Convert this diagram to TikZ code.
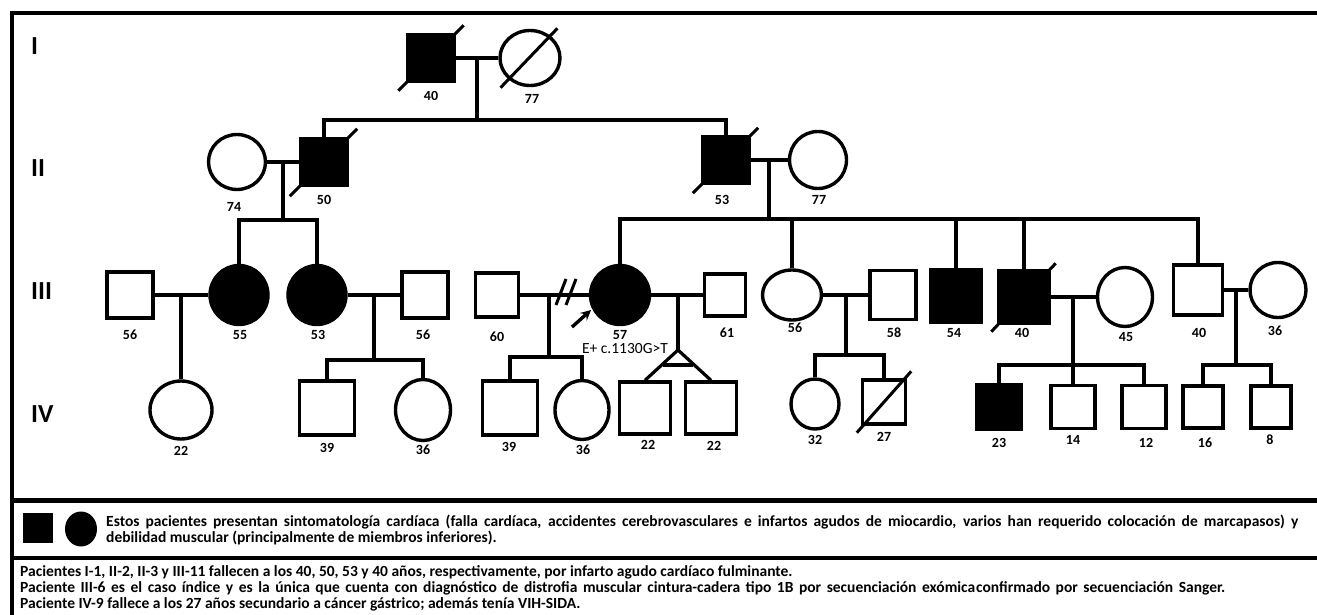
\documentclass[tikz,border=0pt]{standalone}
\usepackage{fontspec}
\setmainfont{Carlito}
\usetikzlibrary{shapes.geometric}

\newcommand{\agefont}{\bfseries\fontsize{14}{14}\selectfont}
\newcommand{\genfont}{\bfseries\fontsize{26}{26}\selectfont}
\newcommand{\txtfont}{\bfseries\fontsize{15.5}{16}\selectfont}

\begin{document}
\begin{tikzpicture}[x=1pt, y=-1pt,
    conn/.style = {line width=3.2pt},
    boxline/.style = {line width=4pt},
    male/.style 2 args = {draw, line width=3.4pt, inner sep=0pt, minimum width=#1, minimum height=#2},
    female/.style 2 args = {ellipse, draw, line width=3.4pt, inner sep=0pt, minimum width=#1, minimum height=#2},
    aff/.style = {fill=black},
    dead/.style = {line width=3pt},
    age/.style = {font=\agefont, inner sep=0pt},
    gen/.style = {font=\genfont, anchor=west, inner sep=0pt},
    arrow/.style = {line width=3.4pt,-stealth}]

    \useasboundingbox (0,0) rectangle (1317,615);
    \clip (0,0) rectangle (1317,615);

    % frame
    \draw[boxline] (1325,13) -- (12,13) -- (12,625);
    \draw[line width=5pt] (10,500) -- (1325,500);
    \draw[boxline] (10,558) -- (1325,558);

    % generations
    \node[gen] (gI)   at (31,46)  {I};
    \node[gen] (gII)  at (31,168) {II};
    \node[gen] (gIII) at (31,291) {III};
    \node[gen] (gIV)  at (31,414) {IV};

    % I
    \node[male={46}{46}, aff] (i1) at (431,58) {};
    \node[female={60}{55}]    (i2) at (530,58) {};

    % II
    \node[female={57}{55}]    (ii1) at (237,162) {};
    \node[male={47}{47}, aff] (ii2) at (324,162) {};
    \node[male={47}{47}, aff] (ii3) at (726,160) {};
    \node[female={57}{57}]    (ii4) at (818,160) {};

    % III
    \node[male={46}{46}]        (iii1)  at (130,295)  {};
    \node[female={58}{59}, aff] (iii2)  at (239,295)  {};
    \node[female={58}{59}, aff] (iii3)  at (317,295)  {};
    \node[male={46}{46}]        (iii4)  at (425,295)  {};
    \node[male={43}{44}]        (iii5)  at (497,295)  {};
    \node[female={59}{59}, aff] (iii6)  at (620,295)  {};
    \node[male={41}{42}]        (iii6b) at (725,295)  {};
    \node[female={59}{50}]      (iii7)  at (792,295)  {};
    \node[male={46}{49}]        (iii8)  at (893,295)  {};
    \node[male={50}{52}, aff]   (iii9)  at (956,296)  {};
    \node[male={50}{52}, aff]   (iii10) at (1024,297) {};
    \node[female={55}{59}]      (iii11) at (1125,297) {};
    \node[male={49}{50}]        (iii12) at (1198,290) {};
    \node[female={56}{55}]      (iii13) at (1278,290) {};

    % IV
    \node[female={62}{58}]    (iv1)  at (181,410)  {};
    \node[male={55}{54}]      (iv2)  at (327,408)  {};
    \node[female={55}{61}]    (iv3)  at (423,410)  {};
    \node[male={55}{54}]      (iv4)  at (510,408)  {};
    \node[female={54}{59}]    (iv5)  at (582,410)  {};
    \node[male={51}{52}]      (iv6)  at (645,408)  {};
    \node[male={51}{52}]      (iv7)  at (711,408)  {};
    \node[female={48}{50}]    (iv8)  at (815,404)  {};
    \node[male={43}{44}]      (iv9)  at (884,402)  {};
    \node[male={44}{44}, aff] (iv10) at (999,407)  {};
    \node[male={44}{43}]      (iv11) at (1073,407) {};
    \node[male={44}{43}]      (iv12) at (1144,407) {};
    \node[male={40}{42}]      (iv13) at (1203,407) {};
    \node[male={40}{42}]      (iv14) at (1271,407) {};

    % deceased
    \draw[dead] ([shift={(-8,8)}]i1.south west)   -- ([shift={(8,-8)}]i1.north east);
    \draw[dead] ([shift={(-7,9)}]i2.south west)   -- ([shift={(5,-9)}]i2.north east);
    \draw[dead] ([shift={(-9,9)}]ii2.south west)  -- ([shift={(8,-8)}]ii2.north east);
    \draw[dead] ([shift={(-8,8)}]ii3.south west)  -- ([shift={(7,-7)}]ii3.north east);
    \draw[dead] ([shift={(-6,7)}]iii10.south west) -- ([shift={(5,-6)}]iii10.north east);
    \draw[dead] ([shift={(-4,7)}]iv9.south west)  -- ([shift={(4,-7)}]iv9.north east);

    % junctions
    \coordinate (m1)  at (477,58);   \coordinate (s1)  at (477,120);
    \coordinate (m21) at (283,162);  \coordinate (s21) at (283,220);
    \coordinate (m22) at (769,160);  \coordinate (s22) at (769,219);
    \coordinate (m31) at (181,295);
    \coordinate (m32) at (374,295);  \coordinate (s32) at (374,360);
    \coordinate (m33) at (549,295);  \coordinate (s33) at (549,357);
    \coordinate (m34) at (678,295);  \coordinate (tw)  at (678,350);
    \coordinate (m35) at (846,295);  \coordinate (s35) at (846,355);
    \coordinate (m36) at (1073,297); \coordinate (s36) at (1073,365);
    \coordinate (m37) at (1236,290); \coordinate (s37) at (1236,365);

    % I
    \draw[conn] (i1) -- (i2);
    \draw[conn] (m1) -- (s1);
    \draw[conn] (ii2.north) |- (s1) -| (ii3.north);

    % II
    \draw[conn] (ii1) -- (ii2);
    \draw[conn] (m21) -- (s21);
    \draw[conn] (iii2.north) |- (s21) -| (iii3.north);
    \draw[conn] (ii3) -- (ii4);
    \draw[conn] (m22) -- (s22);
    \draw[conn] (iii6.north) |- (s22) -| (iii12.north);
    \draw[conn] (iii7.north) -- (iii7.north |- s22);
    \draw[conn] (iii9.north) -- (iii9.north |- s22);
    \draw[conn] (iii10.north) -- (iii10.north |- s22);

    % III
    \draw[conn] (iii1) -- (iii2);
    \draw[conn] (m31) -- (iv1.north);
    \draw[conn] (iii3) -- (iii4);
    \draw[conn] (m32) -- (s32);
    \draw[conn] (iv2.north) |- (s32) -| (iv3.north);
    \draw[conn] (iii5) -- (iii6);
    \draw[conn] (m33) -- (s33);
    \draw[conn] (iv4.north) |- (s33) -| (iv5.north);
    \draw[conn] (iii6) -- (iii6b);
    \draw[conn] (m34) -- (tw);
    \draw[conn] (iv6.north) -- (tw) -- (iv7.north);
    \draw[conn] (663,365) -- (693,365);
    \draw[conn] (iii7) -- (iii8);
    \draw[conn] (m35) -- (s35);
    \draw[conn] (iv8.north) |- (s35) -| (iv9.north);
    \draw[conn] (iii10) -- (iii11);
    \draw[conn] (m36) -- (s36);
    \draw[conn] (iv10.north) |- (s36) -| (iv12.north);
    \draw[conn] (iv11.north) -- (iv11.north |- s36);
    \draw[conn] (iii12) -- (iii13);
    \draw[conn] (m37) -- (s37);
    \draw[conn] (iv13.north) |- (s37) -| (iv14.north);

    % separation and proband
    \coordinate (sep1a) at (556,305); \coordinate (sep1b) at (566,279);
    \coordinate (sep2a) at (566,305); \coordinate (sep2b) at (576,279);
    \draw[dead] (sep1a) -- (sep1b);
    \draw[dead] (sep2a) -- (sep2b);
    \coordinate (pa1) at (572,327); \coordinate (pa2) at (591,310);
    \draw[arrow] (pa1) -- (pa2);
    \node[font=\fontsize{15.5}{15.5}\selectfont, inner sep=0pt] (mut) at (625,349) {E+ c.1130G>T};

    % ages
    \foreach \x/\y/\t [count=\n] in {431/96/40, 532/99/77,
        234/207/74, 324/200/50, 722/200/53, 819/200/77,
        130/335/56, 240/335/55, 318/335/53, 423/335/56, 497/337/60, 620/335/57, 727/333/61,
        795/328/56, 894/333/58, 954/333/54, 1022/333/40, 1126/337/45, 1199/333/40, 1275/331/36,
        181/451/22, 327/448/39, 423/450/36, 509/447/39, 583/450/36, 648/445/22, 714/446/22,
        815/440/32, 884/437/27, 999/443/23, 1073/440/14, 1146/443/12, 1205/443/16, 1270/440/8}
        \node[age] (age\n) at (\x,\y) {\t};

    % legend
    \node[minimum size=30, inner sep=0pt, aff] (legm) at (38,528) {};
    \node[ellipse, minimum width=32, minimum height=35, inner sep=0pt, aff] (legf) at (81,529) {};
    \node[font=\txtfont, anchor=west, text width=1192, align=justify, inner sep=0pt] (legtxt) at (106,530)
        {Estos pacientes presentan sintomatología cardíaca (falla cardíaca, accidentes cerebrovasculares e infartos agudos de miocardio, varios han requerido colocación de marcapasos) y\linebreak
         debilidad muscular (principalmente de miembros inferiores).};

    % notes
    \node[font=\txtfont, anchor=north west, text width=1205, align=justify, inner sep=0pt] (notes) at (20,565)
        {Pacientes I-1, II-2, II-3 y III-11 fallecen a los 40, 50, 53 y 40 años, respectivamente, por infarto agudo cardíaco fulminante.\\
         Paciente III-6 es el caso índice y es la única que cuenta con diagnóstico de distrofia muscular cintura-cadera tipo 1B por secuenciación exómica\hspace{1pt}confirmado por secuenciación Sanger.\linebreak
         Paciente IV-9 fallece a los 27 años secundario a cáncer gástrico; además tenía VIH-SIDA.};

\end{tikzpicture}
\end{document}
